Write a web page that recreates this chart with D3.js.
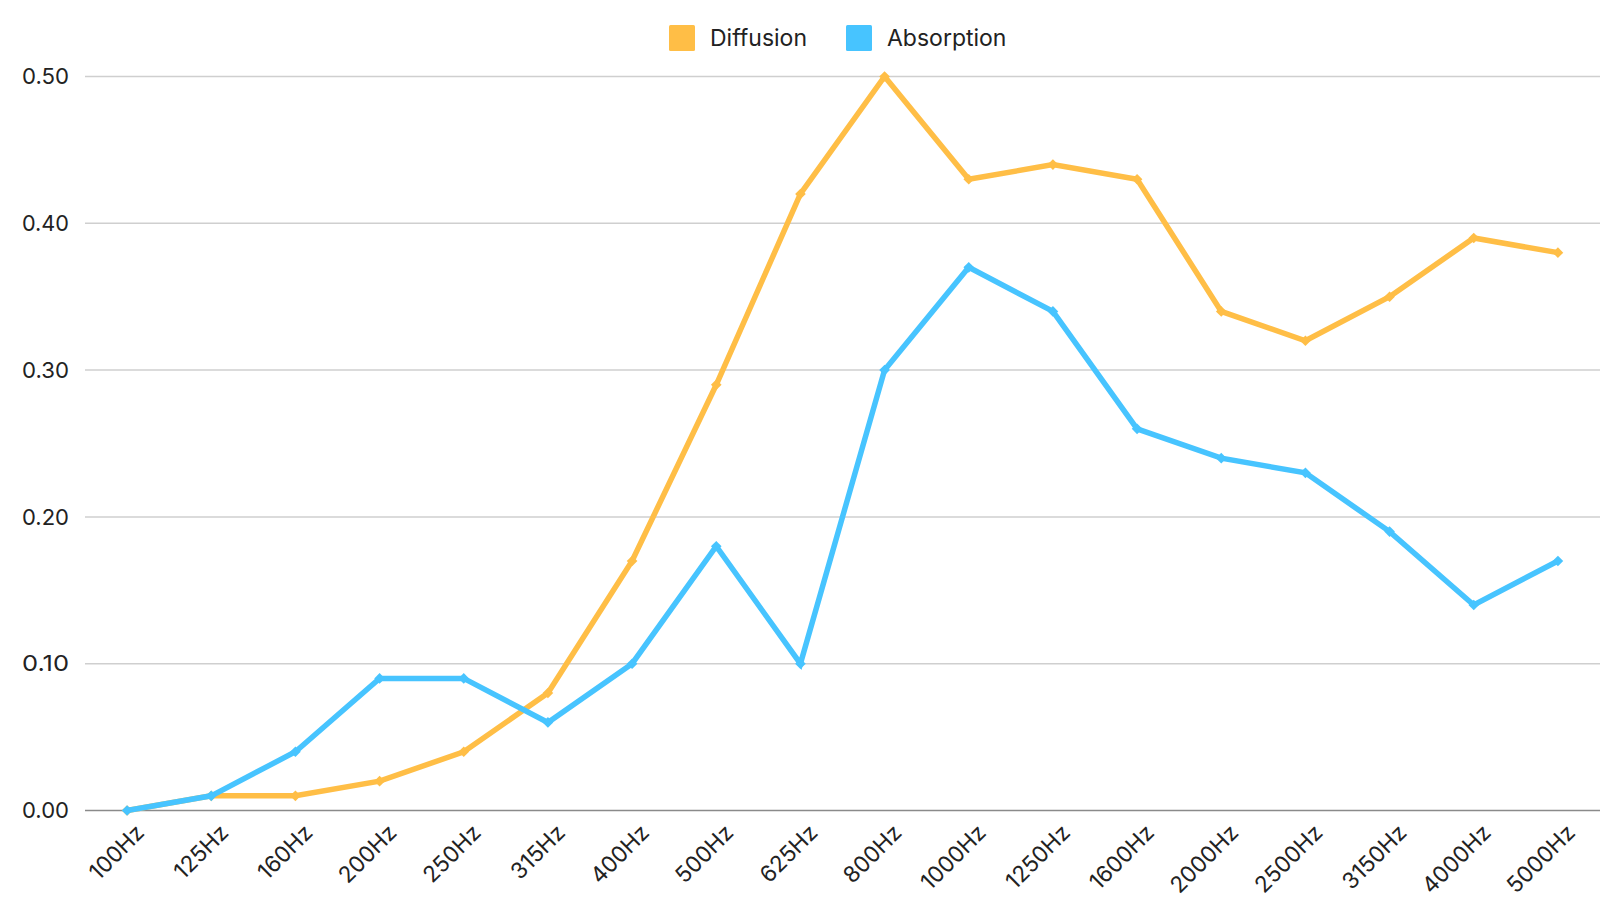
<!DOCTYPE html>
<html><head><meta charset="utf-8">
<script src="https://cdn.jsdelivr.net/npm/d3@7"></script>
<style>html,body{margin:0;padding:0;background:#fff;} svg{display:block;font-family:Inter, "Open Sans", sans-serif;}</style>
</head><body>
<svg id="chart" width="1600" height="900"></svg>
<script>
const categories = ["100Hz","125Hz","160Hz","200Hz","250Hz","315Hz","400Hz","500Hz","625Hz","800Hz","1000Hz","1250Hz","1600Hz","2000Hz","2500Hz","3150Hz","4000Hz","5000Hz"];
const diffusion = [0.00,0.01,0.01,0.02,0.04,0.08,0.17,0.29,0.42,0.50,0.43,0.44,0.43,0.34,0.32,0.35,0.39,0.38];
const absorption = [0.00,0.01,0.04,0.09,0.09,0.06,0.10,0.18,0.10,0.30,0.37,0.34,0.26,0.24,0.23,0.19,0.14,0.17];
const yTicks = [0,0.1,0.2,0.3,0.4,0.5];
const seriesNames = ["Diffusion","Absorption"];
const seriesColors = ["#FFBE46","#47C4FF"];

(function(){
const svg = d3.select("#chart");
const mLeft = 85, mRight = 1600, mTop = 76.5, mBottom = 810.5;
const x = d3.scalePoint().domain(categories).range([mLeft, mRight]).padding(0.5);
const y = d3.scaleLinear().domain([0,0.5]).range([mBottom, mTop]);

// gridlines
svg.append("g").selectAll("line").data(yTicks.filter(d=>d>0)).join("line")
  .attr("x1", mLeft).attr("x2", mRight)
  .attr("y1", d=>y(d)).attr("y2", d=>y(d))
  .attr("stroke", "#cfcfcf").attr("stroke-width", 1.5);

// y labels
svg.append("g").selectAll("text").data(yTicks).join("text")
  .attr("x", 69).attr("y", d=>y(d)).attr("dy","0.35em")
  .attr("text-anchor","end").attr("font-size", 22).attr("fill","#222")
  .attr("textLength", 47).attr("lengthAdjust","spacingAndGlyphs")
  .text(d=>d3.format(".2f")(d));

// baseline
svg.append("line").attr("x1",mLeft).attr("x2",mRight).attr("y1",y(0)).attr("y2",y(0))
  .attr("stroke","#8a8a8a").attr("stroke-width",1.5);

// x labels
svg.append("g").selectAll("text").data(categories).join("text")
  .attr("transform", d=>`translate(${x(d)+13},${y(0)+18}) rotate(-45)`)
  .attr("text-anchor","end").attr("font-size", 22.5).attr("fill","#222")
  .attr("dy","0.35em")
  .text(d=>d);

const line = d3.line().x((d,i)=>x(categories[i])).y(d=>y(d));
const diamond = d3.symbol().type(d3.symbolDiamond2).size(72);
[diffusion, absorption].forEach((vals, si)=>{
  const g = svg.append("g");
  g.append("path").datum(vals).attr("d", line).attr("fill","none")
    .attr("stroke", seriesColors[si]).attr("stroke-width",5.5).attr("stroke-linejoin","miter");
  g.selectAll("path.m").data(vals).join("path").attr("class","m")
    .attr("transform",(d,i)=>`translate(${x(categories[i])},${y(d)})`)
    .attr("d", diamond).attr("fill", seriesColors[si]);
});

// legend
const legX = [669, 846];
seriesNames.forEach((n,i)=>{
  svg.append("rect").attr("x",legX[i]).attr("y",25).attr("width",26).attr("height",26).attr("rx",1.5)
    .attr("fill",seriesColors[i]);
  svg.append("text").attr("x",legX[i]+41).attr("y",38).attr("dy","0.35em")
    .attr("font-size",23).attr("fill","#222").text(n);
});
})();
</script>
</body></html>
